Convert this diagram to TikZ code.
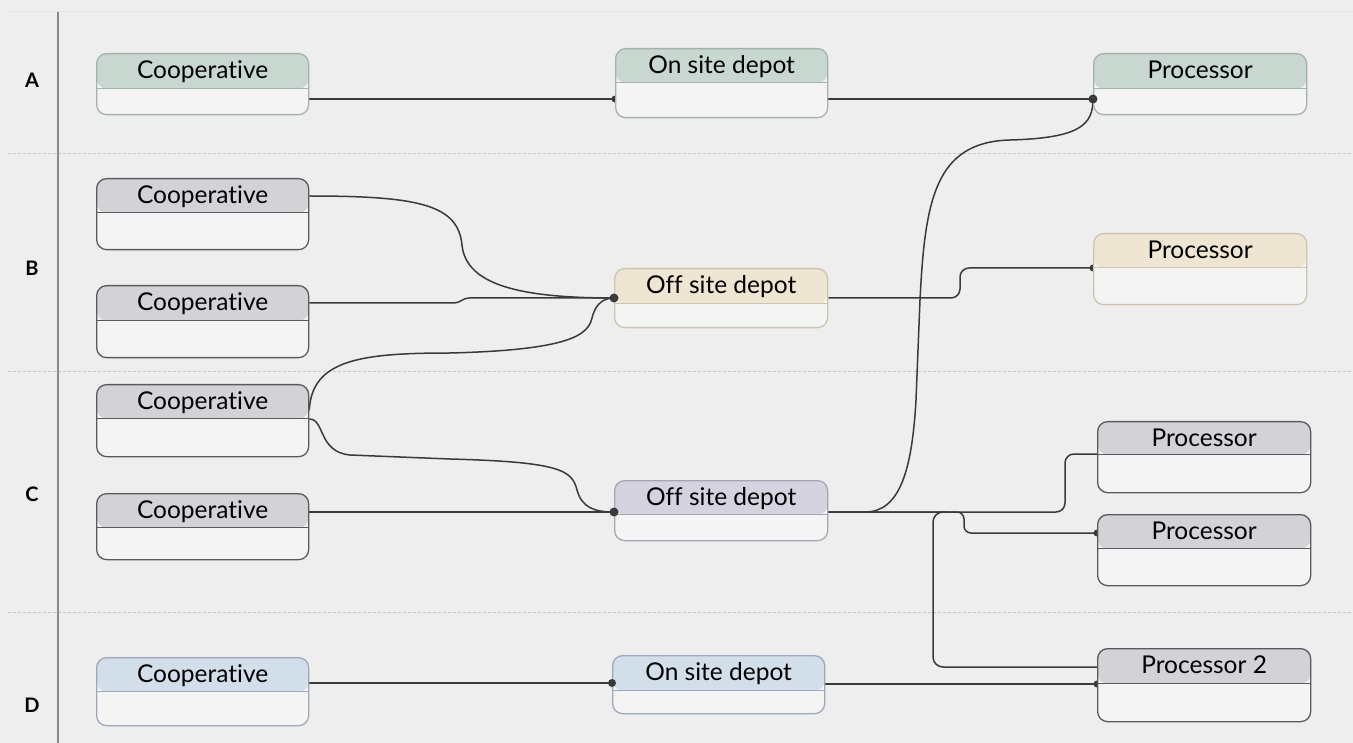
\documentclass[tikz,border=0pt]{standalone}
\usepackage{fontspec}
\setmainfont{Lato}[Ligatures=NoCommon]
\pgfdeclarelayer{back}
\pgfdeclarelayer{bg}
\pgfsetlayers{back,bg,main}
\definecolor{bgc}{HTML}{EEEEEE}
\definecolor{bodyc}{HTML}{F4F4F4}
\definecolor{linec}{HTML}{3A3A3A}
\definecolor{sepc}{HTML}{C6C6C6}
\definecolor{axisc}{HTML}{8A8A8A}
\definecolor{hgreen}{HTML}{C8D8D0}
\definecolor{dgreen}{HTML}{A3B2AA}
\definecolor{hgray}{HTML}{D3D3D7}
\definecolor{dgray}{HTML}{5A5A5A}
\definecolor{hyell}{HTML}{EEE6D2}
\definecolor{dyell}{HTML}{CCC4AE}
\definecolor{hlav}{HTML}{D5D3DF}
\definecolor{dlav}{HTML}{A6A5B2}
\definecolor{hblue}{HTML}{D2DEE9}
\definecolor{dblue}{HTML}{9DA9BA}
\tikzset{
  boxs/.style={rectangle, rounded corners=10pt, fill=bodyc, line width=1.3pt, inner sep=0pt, anchor=north west},
  lbl/.style={font=\fontsize{24.5}{28}\selectfont, text=black, anchor=base, inner sep=0pt},
  sect/.style={font=\fontsize{20}{23}\selectfont\bfseries, text=black},
  conn/.style={draw=linec, line width=1.5pt},
  sepline/.style={draw=sepc, line width=1pt, dash pattern=on 3pt off 2pt},
}
\newcommand\mybox[9]{%
  \node[boxs, draw=#8, minimum width=#4pt, minimum height=#5pt,
    path picture={\fill[#7] (path picture bounding box.north west) rectangle ([yshift=-#6pt]path picture bounding box.north east);
      \draw[#8, line width=1.3pt] ([yshift=-#6pt]path picture bounding box.north west) -- ([yshift=-#6pt]path picture bounding box.north east);}]
    (#1) at (#2,#3) {};
  \node[lbl] (#1t) at ([yshift=-25.5pt]#1.north) {#9};
}
\begin{document}
\begin{tikzpicture}[x=1pt,y=-1pt]
\useasboundingbox (0,0) rectangle (1353,743);
\begin{pgfonlayer}{back}
\fill[bgc] (0,0) rectangle (1353,743);
\draw[draw=black!10, line width=1pt] (8,12) -- (1353,12);
\draw[sepline] (8,154) -- (1353,154);
\draw[sepline] (8,372) -- (1353,372);
\draw[sepline] (8,612) -- (1353,612);
\draw[draw=axisc, line width=2pt] (58,12) -- (58,743);
\end{pgfonlayer}

\node[sect] (lA) at (32,80) {A};
\node[sect] (lB) at (32,268) {B};
\node[sect] (lC) at (32,494) {C};
\node[sect] (lD) at (32,705) {D};

\mybox{cA}{96}{53}{212}{61}{35}{hgreen}{dgreen}{Cooperative}
\mybox{dA}{615}{48}{212}{69}{34}{hgreen}{dgreen}{On site depot}
\mybox{pA}{1093}{53}{213}{61}{35}{hgreen}{dgreen}{Processor}
\mybox{cB1}{96}{178}{212}{71}{34}{hgray}{dgray}{Cooperative}
\mybox{cB2}{96}{285}{212}{72}{35}{hgray}{dgray}{Cooperative}
\mybox{oB}{614}{268}{213}{59}{35}{hyell}{dyell}{Off site depot}
\mybox{pB}{1093}{233}{213}{71}{34}{hyell}{dyell}{Processor}
\mybox{cC1}{96}{384}{212}{72}{34}{hgray}{dgray}{Cooperative}
\mybox{cC2}{96}{493}{212}{66}{34}{hgray}{dgray}{Cooperative}
\mybox{oC}{614}{480}{213}{60}{34}{hlav}{dlav}{Off site depot}
\mybox{pC1}{1097}{421}{213}{71}{33}{hgray}{dgray}{Processor}
\mybox{pC2}{1097}{514}{213}{71}{34}{hgray}{dgray}{Processor}
\mybox{cD}{96}{657}{212}{68}{34}{hblue}{dblue}{Cooperative}
\mybox{dD}{612}{655}{212}{58}{35}{hblue}{dblue}{On site depot}
\mybox{pTwo}{1097}{648}{213}{73}{35}{hgray}{dgray}{Processor 2}

\begin{pgfonlayer}{bg}
\draw[conn] (cA.east |- 0,99) -- (dA.west |- 0,99);
\draw[conn] (dA.east |- 0,99) -- (pA.west |- 0,99);
\draw[conn] (cB1.east |- 0,196) .. controls (420,196) and (458,205) .. (462,245) .. controls (466,285) and (520,298) .. (oB.west |- 0,298);
\draw[conn, rounded corners=4pt] (cB2.east |- 0,303) -- (458,303) -- (465,298) -- (oB.west |- 0,298);
\draw[conn] (cC1.east |- 0,410) .. controls (312,360) and (360,353) .. (450,353) .. controls (570,350) and (588,335) .. (592,318) .. controls (596,302) and (605,298) .. (oB.west |- 0,298);
\draw[conn] (cC1.east |- 0,419) .. controls (325,419) and (318,452) .. (350,455) -- (450,459) .. controls (560,462) and (572,470) .. (577,490) .. controls (582,508) and (595,512) .. (oC.west |- 0,512);
\draw[conn] (cC2.east |- 0,512) -- (oC.west |- 0,512);
\draw[conn, rounded corners=9pt] (oB.east |- 0,298) -- (960,298) -- (960,268) -- (pB.west |- 0,268);
\draw[conn] (oC.east |- 0,512) -- (865,512) .. controls (900,512) and (912,470) .. (916,400) -- (920,300) .. controls (925,200) and (935,142) .. (1010,140) .. controls (1080,138) and (1093,125) .. (pA.west |- 0,99);
\draw[conn, rounded corners=7pt] (oC.east |- 0,512) -- (964,512) -- (964,533) -- (pC2.west |- 0,533);
\draw[conn, rounded corners=9pt] (oC.east |- 0,512) -- (1065,512) -- (1065,454) -- (pC1.west |- 0,454);
\coordinate (j) at (946,512);
\draw[conn, rounded corners=10pt] (j) -- (933,512) -- (933,667) -- (pTwo.west |- 0,667);
\draw[conn] (cD.east |- 0,683) -- (dD.west |- 0,683);
\draw[conn] (dD.east |- 0,684) -- (pTwo.west |- 0,684);
\fill[linec] (dA.west |- 0,99) circle[radius=3.5pt];
\fill[linec] (pB.west |- 0,268) circle[radius=3.5pt];
\fill[linec] (pC2.west |- 0,533) circle[radius=3.5pt];
\fill[linec] (pTwo.west |- 0,684) circle[radius=3.5pt];
\end{pgfonlayer}
\fill[linec] (pA.west |- 0,99) circle[radius=4.5pt];
\fill[linec] (oB.west |- 0,298) circle[radius=4.5pt];
\fill[linec] (oC.west |- 0,512) circle[radius=4.5pt];
\fill[linec] (dD.west |- 0,683) circle[radius=4pt];
\end{tikzpicture}
\end{document}
